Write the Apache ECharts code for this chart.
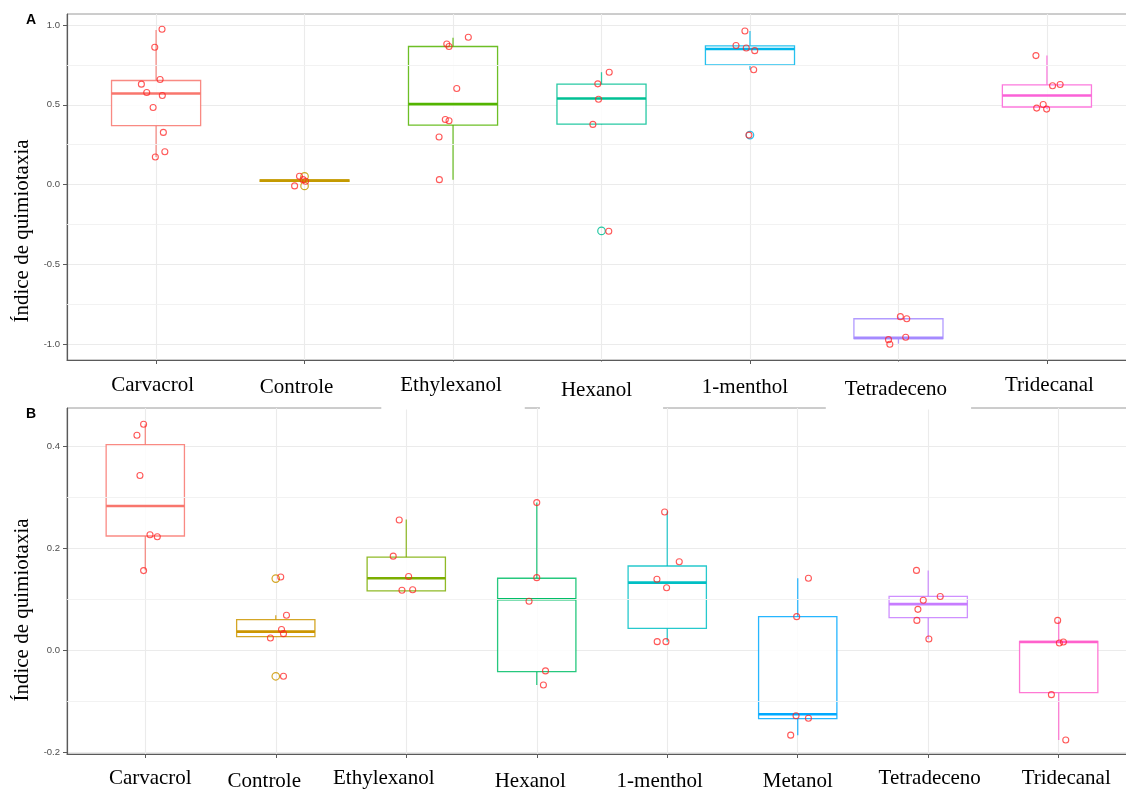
<!DOCTYPE html>
<html><head><meta charset="utf-8">
<script src="https://cdn.jsdelivr.net/npm/echarts@6/dist/echarts.min.js"></script>
<style>html,body{margin:0;padding:0;background:#fff}#c{width:1126px;height:792px}</style>
</head><body><div id="c"></div>
<script>
// ---------- Panel A data ----------
const catsA = ['Carvacrol','Controle','Ethylexanol','Hexanol','1-menthol','Tetradeceno','Tridecanal'];
// [lower whisker, Q1, median, Q3, upper whisker]
const boxA = [
  [0.173, 0.369, 0.571, 0.652, 0.969],
  [0.021, 0.021, 0.025, 0.029, 0.031],
  [0.031, 0.373, 0.504, 0.865, 0.920],
  [0.377, 0.379, 0.539, 0.629, 0.704],
  [0.719, 0.750, 0.849, 0.869, 0.962],
  [-0.996, -0.965, -0.960, -0.840, -0.827],
  [0.473, 0.486, 0.558, 0.625, 0.808]
];
const outA = [[], [0.052, -0.008], [], [-0.290], [0.310], [], []];
const ptsA = [
  [0.973, 0.860, 0.658, 0.629, 0.577, 0.558, 0.483, 0.327, 0.206, 0.173],
  [0.052, -0.008, 0.031, 0.021],
  [0.923, 0.881, 0.865, 0.602, 0.408, 0.400, 0.298, 0.031],
  [0.704, 0.631, 0.535, 0.377, -0.292],
  [0.962, 0.871, 0.856, 0.839, 0.719, 0.310],
  [-0.827, -0.840, -0.956, -0.971, -1.000],
  [0.808, 0.619, 0.627, 0.502, 0.479, 0.473]
];
const jitA = [
  [0.040, -0.009, 0.027, -0.099, -0.063, 0.042, -0.020, 0.049, 0.059, -0.005],
  [-0.034, -0.067, -0.010, 0.007],
  [0.103, -0.042, -0.027, 0.025, -0.052, -0.027, -0.094, -0.092],
  [0.052, -0.025, -0.020, -0.058, 0.049],
  [-0.034, -0.094, -0.025, 0.032, 0.025, -0.007],
  [0.013, 0.056, 0.049, -0.067, -0.058],
  [-0.074, 0.038, 0.089, -0.025, -0.069, -0.002]
];
const majorA = [-1.0, -0.5, 0.0, 0.5, 1.0];
const minorA = [-0.75, -0.25, 0.25, 0.75];

// ---------- Panel B data ----------
const catsB = ['Carvacrol','Controle','Ethylexanol','Hexanol','1-menthol','Metanol','Tetradeceno','Tridecanal'];
const boxB = [
  [0.1556, 0.2235, 0.2824, 0.4026, 0.4425],
  [0.026, 0.026, 0.036, 0.0595, 0.068],
  [0.116, 0.116, 0.1406, 0.182, 0.256],
  [-0.0686, -0.0425, 0.0994, 0.1406, 0.289],
  [0.0163, 0.0425, 0.132, 0.1647, 0.2715],
  [-0.167, -0.1347, -0.126, 0.0653, 0.1406],
  [0.0216, 0.0634, 0.090, 0.105, 0.156],
  [-0.1765, -0.0837, 0.0157, 0.0168, 0.058]
];
const outB = [[], [0.140, -0.0516], [], [], [], [], [], []];
const ptsB = [
  [0.4425, 0.421, 0.342, 0.226, 0.222, 0.1556],
  [0.143, 0.068, 0.040, 0.032, 0.0235, -0.0516],
  [0.255, 0.184, 0.144, 0.117, 0.118],
  [0.289, 0.1418, 0.0955, -0.041, -0.0686],
  [0.2706, 0.173, 0.1386, 0.122, 0.0163, 0.0163],
  [0.1406, 0.0653, -0.129, -0.134, -0.167],
  [0.156, 0.105, 0.0974, 0.0797, 0.058, 0.0216],
  [0.058, 0.0137, 0.0157, -0.0876, -0.1765]
];
const jitB = [
  [-0.013, -0.064, -0.041, 0.036, 0.092, -0.013],
  [0.038, 0.082, 0.044, 0.059, -0.041, 0.059],
  [-0.054, -0.100, 0.018, -0.033, 0.049],
  [0.000, 0.000, -0.059, 0.067, 0.051],
  [-0.020, 0.092, -0.079, -0.005, -0.077, -0.010],
  [0.082, -0.008, -0.013, 0.082, -0.054],
  [-0.090, 0.092, -0.038, -0.079, -0.087, 0.005],
  [-0.008, 0.005, 0.036, -0.056, 0.054]
];
const majorB = [-0.2, 0.0, 0.2, 0.4];
const minorB = [-0.1, 0.1, 0.3];

// ---------- styling ----------
const colA = ['#F8766D','#C49A00','#53B400','#00C094','#00B6EB','#A58AFF','#FB61D7'];
const colB = ['#F8766D','#CD9600','#7CAE00','#00BE67','#00BFC4','#00A9FF','#C77CFF','#FF61CC'];
// label padding [top, right, bottom, left] and white background flag
const labPadA = [[0,7,0,0],[4,16,0,0],[13.5,23,13.5,19],[18.5,31,8.5,21],[4,10,0,0],[17.5,24,9.5,19],[0,0,0,5]];
const labBgA = [false,false,true,true,false,true,false];
const labPadB = [[0,0,0,10],[6,23,0,0],[0,45,0,0],[6,13,0,0],[6,15,0,0],[6,0,0,0],[0,0,0,3],[0,0,0,15]];

const SERIF = "'Liberation Serif','Times New Roman',serif";
const SANS = "'Liberation Sans',Arial,sans-serif";
const AXC = '#5a5a5a';

function boxData(stats){ return stats.map((s,i)=>[i+1].concat(s)); }
function pointData(ys, jit){
  const out=[];
  ys.forEach((arr,i)=>arr.forEach((y,k)=>out.push([i+1+jit[i][k], y])));
  return out;
}
function outlierData(outs, cols){
  const out=[];
  outs.forEach((arr,i)=>arr.forEach(y=>out.push({value:[i+1,y], itemStyle:{borderColor:cols[i]}})));
  return out;
}
function makeRender(cols){
  return function(params, api){
    const x=api.value(0);
    const lo=api.coord([x,api.value(1)]), q1=api.coord([x,api.value(2)]),
          md=api.coord([x,api.value(3)]), q3=api.coord([x,api.value(4)]),
          hi=api.coord([x,api.value(5)]);
    const w=api.size([0.6,0])[0];
    const c=cols[params.dataIndex];
    const thin={stroke:c, lineWidth:1.3, opacity:0.8};
    return {type:'group', children:[
      {type:'line', shape:{x1:q3[0],y1:q3[1],x2:hi[0],y2:hi[1]}, style:thin},
      {type:'line', shape:{x1:q1[0],y1:q1[1],x2:lo[0],y2:lo[1]}, style:thin},
      {type:'rect', shape:{x:md[0]-w/2, y:q3[1], width:w, height:Math.max(q1[1]-q3[1],0.5)},
        style:{fill:'#fff', stroke:c, lineWidth:1.3, opacity:0.85}},
      {type:'line', shape:{x1:md[0]-w/2,y1:md[1],x2:md[0]+w/2,y2:md[1]}, style:{stroke:c, lineWidth:2.6}}
    ]};
  };
}
function idx(cats){ return cats.map((c,i)=>i+1); }
function xLabelCfg(cats, pads, bgs, margin){
  const rich={};
  cats.forEach((c,i)=>{
    rich['L'+i]={fontFamily:SERIF, fontSize:21, lineHeight:21, color:'#000',
      padding:pads[i], backgroundColor: (bgs && bgs[i]) ? '#fff' : 'transparent'};
  });
  return {
    show:true, margin:margin, customValues:idx(cats),
    formatter:function(v){
      const r=Math.round(v);
      if (Math.abs(v-r)>1e-6 || r<1 || r>cats.length) return '';
      return '{L'+(r-1)+'|'+cats[r-1]+'}';
    },
    rich:rich
  };
}
function gridSeries(xi, minor, z){
  return {type:'line', xAxisIndex:xi, yAxisIndex:xi, data:[], z:z, silent:true,
    markLine:{silent:true, symbol:['none','none'], animation:false, label:{show:false},
      emphasis:{disabled:true},
      lineStyle:{color:'#f0f0f0', width:0.9, type:'solid'},
      data:minor.map(v=>({yAxis:v}))}};
}
function yAxisCfg(gi, min, max, majors, padR){
  return {gridIndex:gi, type:'value', min:min, max:max, z:1,
    axisLine:{show:true, onZero:false, lineStyle:{color:AXC, width:1.2}},
    axisTick:{show:true, length:4, lineStyle:{color:AXC}, customValues:majors},
    splitLine:{show:true, lineStyle:{color:'#ebebeb', width:1.1}},
    axisLabel:{fontFamily:SANS, fontSize:9.5, color:'#4d4d4d', margin:7, customValues:majors,
      formatter:function(v){ return v.toFixed(1); }},
    name:'Índice de quimiotaxia', nameLocation:'middle', nameRotate:90, nameGap:32,
    nameTextStyle:{fontFamily:SERIF, fontSize:21, color:'#000', padding:[0,padR,0,0]}};
}
function xAxisCfg(gi, n, cats, pads, bgs, margin){
  return {gridIndex:gi, type:'value', min:0.4, max:n+0.6, z:1,
    axisLine:{show:true, onZero:false, lineStyle:{color:AXC, width:1.2}},
    axisTick:{show:true, length:4, lineStyle:{color:AXC}, customValues:idx(cats)},
    splitLine:{show:true, lineStyle:{color:'#ebebeb', width:1.1}},
    axisLabel:xLabelCfg(cats, pads, bgs, margin)};
}

const chart=echarts.init(document.getElementById('c'), null, {renderer:'canvas'});
const option={
  animation:false,
  backgroundColor:'#fff',
  title:[
    {text:'A', left:26, top:13, padding:0, textStyle:{fontFamily:SANS, fontWeight:'bold', fontSize:14, color:'#000'}},
    {text:'B', left:26, top:407, padding:0, textStyle:{fontFamily:SANS, fontWeight:'bold', fontSize:14, color:'#000'}}
  ],
  grid:[
    {left:67, top:14, width:1069, height:346, outerBoundsMode:'none', containLabel:false, show:true,
      borderColor:'#9a9a9a', borderWidth:1, backgroundColor:'transparent', z:0},
    {left:67, top:408, width:1070, height:346, outerBoundsMode:'none', containLabel:false, show:true,
      borderColor:'#9a9a9a', borderWidth:1, backgroundColor:'transparent', z:0}
  ],
  xAxis:[
    xAxisCfg(0, catsA.length, catsA, labPadA, labBgA, 15),
    xAxisCfg(1, catsB.length, catsB, labPadB, null, 14)
  ],
  yAxis:[
    yAxisCfg(0, -1.0985, 1.0685, majorA, 88),
    yAxisCfg(1, -0.204, 0.4745, majorB, 58)
  ],
  series:[
    gridSeries(0, minorA, 2),
    gridSeries(1, minorB, 2),
    {type:'custom', xAxisIndex:0, yAxisIndex:0, z:3, silent:true, renderItem:makeRender(colA),
      encode:{x:0, y:[1,2,3,4,5]}, data:boxData(boxA)},
    {type:'custom', xAxisIndex:1, yAxisIndex:1, z:3, silent:true, renderItem:makeRender(colB),
      encode:{x:0, y:[1,2,3,4,5]}, data:boxData(boxB)},
    {type:'scatter', xAxisIndex:0, yAxisIndex:0, z:4, silent:true, symbol:'circle', symbolSize:7.5,
      itemStyle:{color:'rgba(0,0,0,0)', borderWidth:1.2, opacity:0.85}, data:outlierData(outA, colA)},
    {type:'scatter', xAxisIndex:1, yAxisIndex:1, z:4, silent:true, symbol:'circle', symbolSize:7.5,
      itemStyle:{color:'rgba(0,0,0,0)', borderWidth:1.2, opacity:0.85}, data:outlierData(outB, colB)},
    {type:'scatter', xAxisIndex:0, yAxisIndex:0, z:5, silent:true, symbol:'circle', symbolSize:6,
      itemStyle:{color:'rgba(0,0,0,0)', borderColor:'#ff2020', borderWidth:1.1, opacity:0.75}, data:pointData(ptsA, jitA)},
    {type:'scatter', xAxisIndex:1, yAxisIndex:1, z:5, silent:true, symbol:'circle', symbolSize:6,
      itemStyle:{color:'rgba(0,0,0,0)', borderColor:'#ff2020', borderWidth:1.1, opacity:0.75}, data:pointData(ptsB, jitB)}
  ]
};
chart.setOption(option);
</script></body></html>
